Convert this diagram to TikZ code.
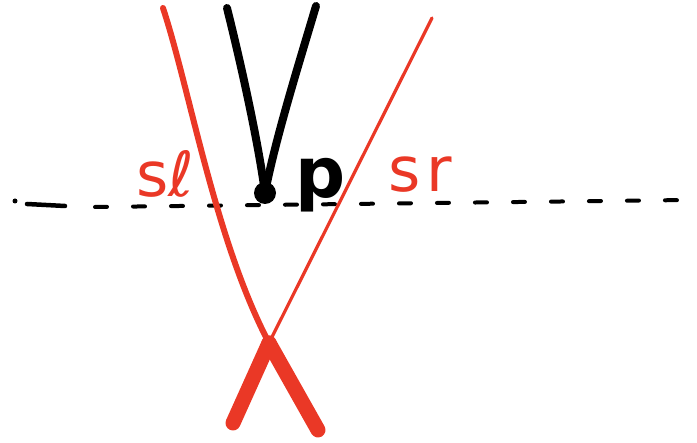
\documentclass[tikz,border=0pt]{standalone}
\usepackage{fontspec}
\setmainfont{DejaVu Sans}
\definecolor{sred}{RGB}{234,56,38}
\begin{document}
\begin{tikzpicture}[x=1pt,y=-1pt,line cap=round,line join=round,
  ink/.style={draw=black,line width=8pt},
  rthick/.style={draw=sred,line width=6pt},
  rthin/.style={draw=sred,line width=3.2pt},
  rfoot/.style={draw=sred,line width=15pt},
  dashline/.style={draw=black,line width=4pt,dash pattern=on 12pt off 26pt},
  rlabel/.style={text=sred,font=\fontsize{62}{62}\selectfont},
  blabel/.style={text=black,font=\fontsize{70}{70}\selectfont\bfseries}]
\useasboundingbox (0,0) rectangle (697,443);
% dashed line
\coordinate (dl) at (15,201);
\coordinate (dr) at (688,200);
\fill (dl) circle (2.5pt);
\draw[draw=black,line width=4.5pt] (27,204) -- (65,206);
\draw[dashline] (95,207) -- (dr);
% black V
\coordinate (vl) at (227,8);
\coordinate (vr) at (316,6);
\node[circle,fill=black,minimum size=22pt,inner sep=0pt] (pt) at (265,193) {};
\draw[ink] (vl) .. controls (240,60) and (258,140) .. (pt.center);
\draw[ink] (vr) .. controls (300,60) and (275,140) .. (pt.center);
% p label
\node[blabel,anchor=base] (p) at (321,198) {p};
% red lines
\coordinate (ra) at (163,8);
\coordinate (rb) at (432,18);
\coordinate (x) at (269,343);
\draw[rthick] (ra) .. controls (190,90) and (215,240) .. (x);
\draw[rthin] (rb) -- (x);
\coordinate (fl) at (233,423);
\coordinate (fr) at (318,430);
\draw[rfoot] (x) -- (fl);
\draw[rfoot] (x) -- (fr);
% labels
\node[rlabel,anchor=base] (sl) at (165,197) {sℓ};
\node[rlabel,anchor=base] (sr) at (420,192) {s\kern6pt r};
\end{tikzpicture}
\end{document}
